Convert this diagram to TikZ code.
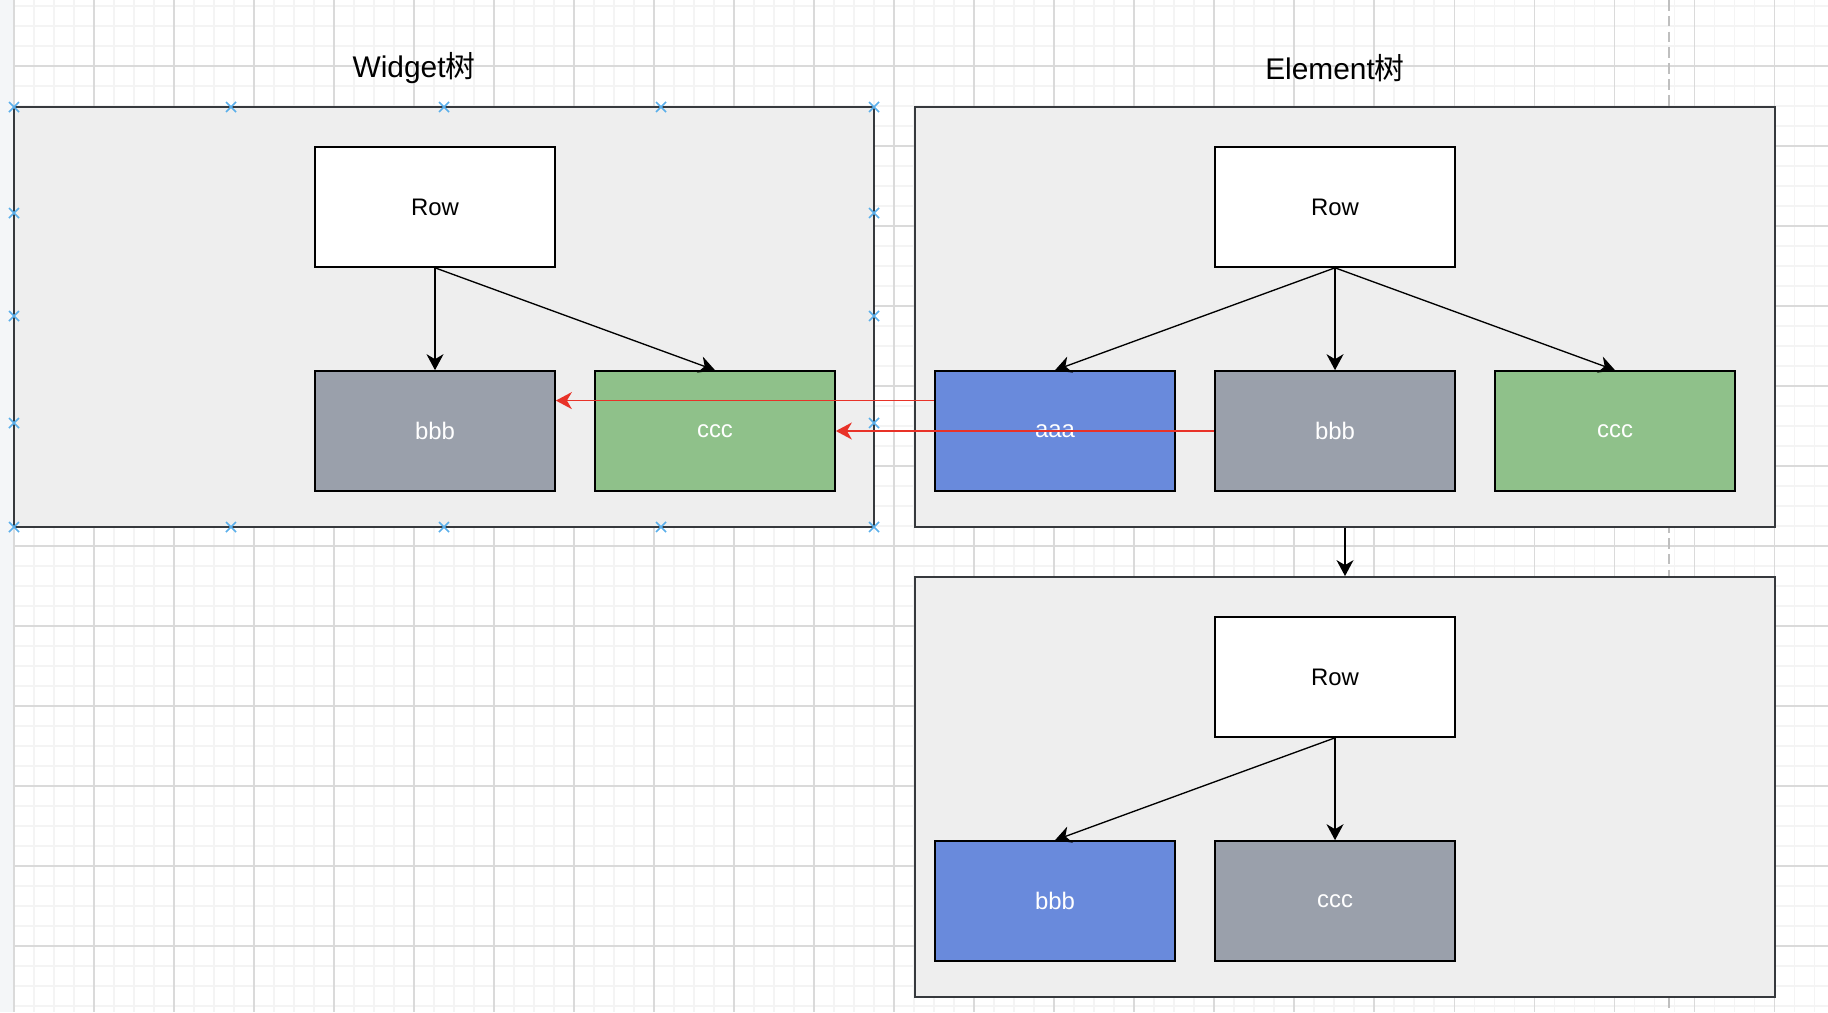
\documentclass[tikz,border=0pt]{standalone}
\usepackage{fontspec}
\setmainfont{Liberation Sans}
\newfontfamily\cjk{Noto Sans CJK SC}
\usepackage{tikz}
\usetikzlibrary{arrows.meta,positioning,calc}

\definecolor{paneFill}{RGB}{238,238,238}
\definecolor{paneLine}{RGB}{54,57,61}
\definecolor{cellGray}{RGB}{154,160,171}
\definecolor{cellGreen}{RGB}{143,193,138}
\definecolor{cellBlue}{RGB}{105,138,220}
\definecolor{linkRed}{RGB}{232,50,40}
\definecolor{handleBlue}{RGB}{90,175,235}
\definecolor{gridMinor}{RGB}{244,244,244}
\definecolor{gridMajor}{RGB}{218,218,218}
\definecolor{pageEdge}{RGB}{244,246,248}

\begin{document}
\begin{tikzpicture}[x=0.01cm, y=-0.01cm,
  pane/.style = {draw=paneLine, fill=paneFill, line width=0.45pt, minimum width=8.6cm, minimum height=4.2cm, inner sep=0pt},
  cell/.style = {draw=black, line width=0.45pt, minimum width=2.4cm, minimum height=1.2cm, inner sep=0pt, font=\fontsize{6.8}{8}\selectfont},
  rowcell/.style = {cell, fill=white, text=black},
  graycell/.style = {cell, fill=cellGray, text=white},
  greencell/.style = {cell, fill=cellGreen, text=white},
  bluecell/.style = {cell, fill=cellBlue, text=white},
  heading/.style = {font=\fontsize{8.5}{10}\selectfont},
  tip/.style = {line width=0.38pt, -{Stealth[length=0.16cm, width=0.17cm, inset=0.05cm]}},
  redtip/.style = {tip, draw=linkRed, fill=linkRed, line width=0.5pt},
  handle/.style = {handleBlue, line width=0.45pt}
  ]
  \useasboundingbox (0,0) rectangle (1828,1012);

  % canvas grid
  \foreach \x in {14,34,...,1828} \draw [gridMinor, line width=0.3pt] (\x,0) -- (\x,1012);
  \foreach \y in {6,26,...,1012} \draw [gridMinor, line width=0.3pt] (0,\y) -- (1828,\y);
  \foreach \x in {14,94,...,1828} \draw [gridMajor, line width=0.3pt] (\x,0) -- (\x,1012);
  \foreach \y in {66,146,...,1012} \draw [gridMajor, line width=0.3pt] (0,\y) -- (1828,\y);
  \fill [pageEdge] (0,0) rectangle (13,1012);
  \draw [gray!50, line width=0.4pt, dash pattern=on 3pt off 1.5pt] (1669,0) -- (1669,1012);

  % titles
  \node (WTitle) [heading] at (414,68) {Widget{\cjk 树}};
  \node (ETitle) [heading] at (1335,68) {Element{\cjk 树}};

  % panes
  \node (WPane) [pane] at (444,317) {};
  \node (EPane) [pane] at (1345,317) {};
  \node (NPane) [pane] at (1345,787) {};

  % widget tree
  \node (WRow) [rowcell] at (435,207) {Row};
  \node (WB) [graycell] at (435,431) {bbb};
  \node (WC) [greencell] at (715,431) {ccc};

  % element tree
  \node (ERow) [rowcell] at (1335,207) {Row};
  \node (EA) [bluecell] at (1055,431) {aaa};
  \node (EB) [graycell] at (1335,431) {bbb};
  \node (EC) [greencell] at (1615,431) {ccc};

  % new element tree
  \node (NRow) [rowcell] at (1335,677) {Row};
  \node (NB) [bluecell] at (1055,901) {bbb};
  \node (NC) [graycell] at (1335,901) {ccc};

  \path [tip]
  (WRow.south) edge (WB.north)
  (WRow.south) edge (WC.north)
  (ERow.south) edge (EA.north)
  (ERow.south) edge (EB.north)
  (ERow.south) edge (EC.north)
  (NRow.south) edge (NB.north)
  (NRow.south) edge (NC.north)
  (EPane.south) edge (NPane.north);

  % reuse links
  \draw [redtip] ($(EA.north west)!0.25!(EA.south west)$) -- ($(WB.north east)!0.25!(WB.south east)$);
  \draw [redtip] (EB.west) -- (WC.east);

  % selection handles
  \foreach \x in {14,231,444,661,874}
    \foreach \y in {107,527}
      \draw [handle] (\x-5,\y-5) -- (\x+5,\y+5) (\x-5,\y+5) -- (\x+5,\y-5);
  \foreach \x in {14,874}
    \foreach \y in {213,316,423}
      \draw [handle] (\x-5,\y-5) -- (\x+5,\y+5) (\x-5,\y+5) -- (\x+5,\y-5);
\end{tikzpicture}
\end{document}
